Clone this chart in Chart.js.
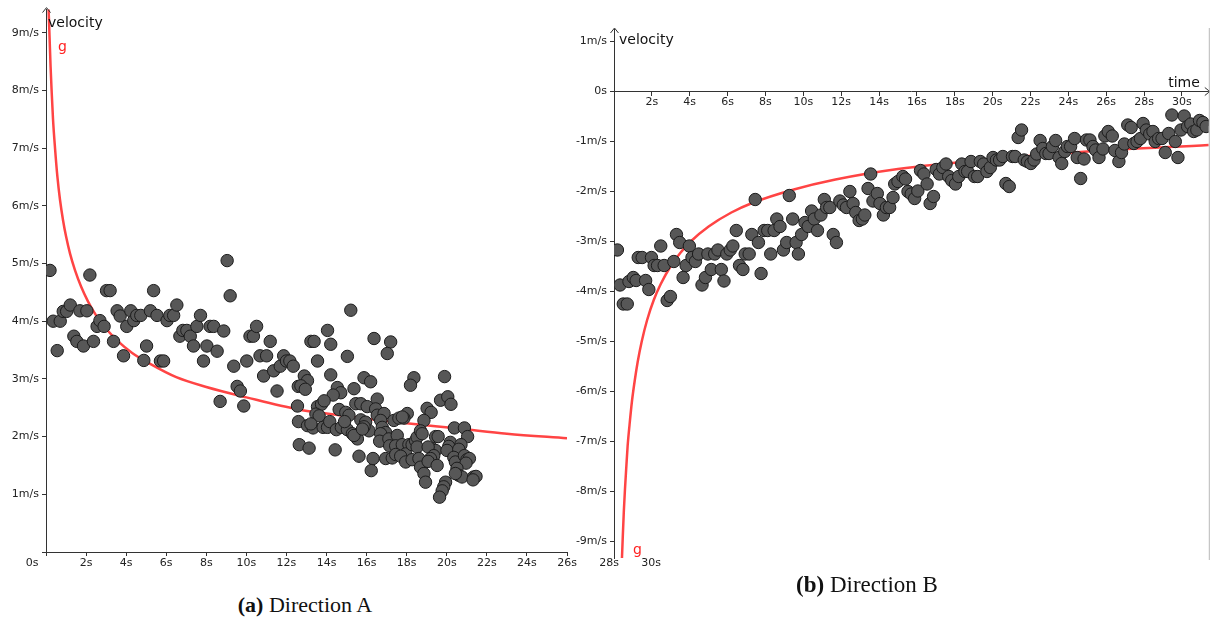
<!DOCTYPE html>
<html>
<head>
<meta charset="utf-8">
<script src="https://cdn.jsdelivr.net/npm/chart.js@4.4.1/dist/chart.umd.min.js"></script>
<style>
  body { margin: 0; background: #fff; width: 1216px; height: 628px; position: relative; overflow: hidden; }
  canvas { position: absolute; top: 0; }
  #chartA { left: 0; }
  #chartB { left: 570px; }
  .caption { position: absolute; font-family: "Liberation Serif", serif; color: #111; transform: translateX(-50%); white-space: nowrap; }
</style>
</head>
<body>
<canvas id="chartA" width="600" height="580"></canvas>
<canvas id="chartB" width="646" height="580"></canvas>
<div class="caption" style="left:305px; top:592px; font-size:22px"><b>(a)</b> Direction A</div>
<div class="caption" style="left:867px; top:572px; font-size:23px"><b>(b)</b> Direction B</div>

<script>
// Direction A: measured speed over time (s, m/s)
const timesA = [
  0.2, 0.36, 0.56, 0.71, 0.86, 1.03, 1.21, 1.39, 1.54, 1.69, 1.87, 2.04, 2.19, 2.37, 2.55, 2.69, 2.9, 3.02, 3.2, 3.37,
  3.55, 3.7, 3.87, 4.03, 4.23, 4.38, 4.53, 4.73, 4.88, 5.02, 5.21, 5.37, 5.54, 5.71, 5.87, 6.04, 6.18, 6.37, 6.53, 6.68,
  6.83, 7.03, 7.2, 7.36, 7.53, 7.71, 7.86, 8.03, 8.19, 8.37, 8.54, 8.69, 8.87, 9.04, 9.19, 9.37, 9.54, 9.7, 9.87, 10.02,
  10.18, 10.35, 10.51, 10.68, 10.86, 11.01, 11.19, 11.36, 11.53, 11.69, 11.86, 12.0, 12.17, 12.34, 12.59, 12.55, 12.6,
  12.89, 13.05, 12.72, 12.94, 13.22, 13.38, 14.05, 14.21, 13.55, 15.21, 15.04, 16.37, 17.2, 17.03, 14.21, 15.87, 16.2,
  14.54, 14.71, 14.33, 15.37, 16.53, 18.36, 18.19, 19.89, 19.69, 20.05, 20.21, 19.02, 19.22, 18.86, 15.46, 15.71, 16.03,
  16.45, 16.53, 16.87, 17.36, 17.61, 18.03, 17.86, 14.63, 14.96, 15.12, 13.55, 13.75, 13.88, 13.47, 13.63,
  12.64, 13.13, 14.43, 13.05, 13.33, 13.22, 13.83, 14.05, 14.16, 14.49, 14.74, 15.04, 15.29, 15.54, 15.37, 15.71, 15.95,
  16.12, 15.87, 15.79, 15.62, 16.7, 16.78, 16.95, 16.7, 16.65, 16.32, 16.23, 17.11, 17.15, 17.53, 17.45, 17.78, 17.78,
  18.11, 17.95, 18.27, 18.44, 18.52, 18.69, 18.77, 18.52, 16.95, 17.28, 17.45, 17.7, 17.95, 18.27, 18.61, 19.44, 19.57,
  19.27, 19.44, 19.07, 19.35, 19.19, 18.69, 18.86, 18.94, 19.07, 19.52, 19.94, 19.85, 19.77, 19.64, 20.38, 20.88, 21.04,
  20.18, 20.1, 20.01, 20.71, 20.6, 20.35, 20.43, 20.88, 21.01, 21.13, 20.96, 20.51, 20.6, 20.76, 20.43, 21.34, 21.46,
  21.31, 14.9
];
const speedsA = [
  4.88, 4.0, 3.49, 4.0, 4.17, 4.17, 4.28, 3.74, 3.65, 4.18, 3.57, 4.18, 4.8, 3.65, 3.91, 4.01, 3.91, 4.53, 4.53, 3.65,
  4.18, 4.09, 3.4, 3.91, 4.18, 4.01, 4.1, 4.1, 3.32, 3.57, 4.18, 4.53, 4.1, 3.31, 3.31, 4.01, 4.1, 4.1, 4.28, 3.74,
  3.84, 3.84, 3.74, 3.57, 3.91, 4.1, 3.31, 3.57, 3.91, 3.91, 3.48, 2.61, 3.83, 5.05, 4.44, 3.22, 2.87, 2.79, 2.53, 3.31,
  3.74, 3.74, 3.91, 3.4, 3.05, 3.4, 3.65, 3.14, 2.79, 3.22, 3.4, 3.31, 3.31, 3.22, 2.87, 2.53, 2.26,
  3.05, 2.97, 2.88, 2.82, 3.65, 3.65, 3.84, 3.6, 3.31, 4.19, 3.39, 3.7, 3.64, 3.44, 3.07, 3.02, 2.95,
  2.85, 2.76, 2.72, 2.83, 2.65, 3.02, 2.89, 3.04, 2.63, 2.69, 2.56, 2.49, 2.42, 2.28, 2.57, 2.57, 2.52,
  2.48, 2.37, 2.4, 2.28, 2.32, 2.4, 2.32, 2.47, 2.42, 2.37, 2.52, 2.56, 2.62, 2.39, 2.36,
  1.86, 1.8, 1.77, 2.19, 2.15, 2.22, 2.16, 2.16, 2.26, 2.12, 2.16, 2.12, 2.05, 1.96, 2.02, 2.29, 2.25,
  2.1, 2.17, 2.13, 1.66, 2.28, 2.16, 2.07, 2.05, 1.92, 1.62, 1.41, 1.96, 1.84, 2.02, 1.84, 2.34, 1.86,
  1.86, 1.7, 1.86, 1.93, 1.99, 2.1, 2.05, 1.82, 1.62, 1.63, 1.69, 1.66, 1.56, 1.6, 1.62, 2.0, 2.0,
  1.79, 1.76, 1.82, 1.67, 1.62, 1.47, 1.36, 1.21, 1.57, 1.5, 1.21, 1.13, 1.06, 0.95, 2.15, 2.15, 2.0,
  1.9, 1.83, 1.76, 1.86, 1.78, 1.64, 1.56, 1.67, 1.6, 1.62, 1.54, 1.45, 1.33, 1.3, 1.36, 1.3, 1.31,
  1.25, 2.26
];
// fitted curve g for direction A
const gTimesA = [
  0.1, 0.14, 0.18, 0.23, 0.28, 0.35, 0.45, 0.57, 0.7, 0.85, 1.0, 1.2, 1.45, 1.75, 2.1, 2.5, 3.0, 3.6, 4.3, 5.2,
  6.5, 8, 10, 12.6, 14, 16, 18, 20.6, 23, 26
];
const gSpeedsA = [
  9.7, 9.3, 8.9, 8.4, 8.0, 7.5, 7.0, 6.5, 6.1, 5.75, 5.47, 5.17, 4.88, 4.6, 4.34, 4.1, 3.87, 3.65, 3.45, 3.26,
  3.03, 2.86, 2.68, 2.47, 2.4, 2.31, 2.23, 2.14, 2.05, 1.97
];

// Direction B: measured velocity over time (s, m/s)
const timesB = [
  0.18, 0.32, 0.49, 0.7, 0.79, 1.02, 1.17, 1.28, 1.49, 1.67, 1.84, 1.98, 2.12, 2.3, 2.47, 2.65, 2.81, 2.98, 3.16, 3.3,
  3.47, 3.65, 3.81, 3.98, 4.12, 4.3, 4.47, 4.65, 4.83, 4.96, 5.14, 5.32, 5.49, 5.67, 5.81, 5.96, 6.14, 6.28, 6.46, 6.63,
  6.81, 6.93, 7.14, 7.28, 7.46, 7.63, 7.77, 7.93, 8.12, 8.28, 8.46, 8.6, 8.77, 8.95, 9.12, 9.26, 9.44, 9.62, 9.74, 9.91,
  10.09, 10.26, 10.44, 10.58, 10.75, 10.93, 11.11, 11.23, 11.4, 11.58, 11.75, 11.93, 12.11, 12.28, 12.46, 12.63, 12.77,
  12.95, 13.12, 13.25, 13.42, 13.56, 13.68, 13.91, 14.05, 14.23, 14.39, 14.56, 14.74, 14.83, 15.0, 15.26, 15.4, 15.53,
  15.7, 15.88, 16.05, 16.19, 16.37, 16.54, 16.7, 16.88, 17.02, 17.19, 17.37, 17.54, 17.68, 17.84, 18.04, 18.21, 18.37,
  18.54, 18.68, 18.86, 19.04, 19.21, 19.35, 19.53, 19.7, 19.88, 20.02, 20.2, 20.37, 20.54, 20.7, 20.88, 21.05, 21.19,
  21.35, 21.53, 21.67, 21.84, 22.02, 22.19, 22.33, 22.51, 22.65, 22.81, 22.98, 23.16, 23.33, 23.51, 23.65, 23.81, 23.95,
  24.12, 24.33, 24.47, 24.65, 24.83, 24.96, 25.14, 25.3, 25.44, 25.62, 25.83, 25.93, 26.11, 26.32, 26.46, 26.67, 26.81,
  26.96, 27.14, 27.32, 27.46, 27.63, 27.81, 27.95, 28.12, 28.3, 28.47, 28.59, 28.77, 28.95, 29.12, 29.3, 29.47, 29.65,
  29.79, 29.95, 30.12, 30.3, 30.47, 30.62, 30.79, 30.93, 31.11, 31.28
];
const velocitiesB = [
  -3.18, -3.88, -4.26, -4.26, -3.81, -3.73, -3.79, -3.33, -3.33, -3.79, -3.97, -3.33, -3.49, -3.49, -3.1, -3.49, -4.19, -4.11, -3.41, -2.87,
  -3.03, -3.73, -3.49, -3.1, -3.33, -3.41, -3.26, -3.88, -3.73, -3.26, -3.57, -3.26, -3.18, -3.57, -3.8, -3.26, -3.18, -3.1, -2.79, -3.49,
  -3.57, -3.26, -3.26, -2.87, -2.17, -3.03, -3.65, -2.79, -2.79, -3.26, -2.79, -2.56, -2.71, -3.18, -3.03, -2.09, -2.56, -3.03, -3.26, -2.87,
  -2.63, -2.71, -2.4, -2.56, -2.79, -2.48, -2.17, -2.33, -2.33, -2.87, -3.03, -2.2, -2.28, -2.33, -2.01, -2.25, -2.43,
  -2.59, -2.56, -2.48, -1.95, -1.66, -2.2, -2.05, -2.25, -2.48, -2.33, -2.33, -2.13, -1.86, -1.81, -1.71, -1.76, -2.01,
  -2.06, -2.15, -2.0, -1.59, -1.66, -1.86, -2.25, -2.11, -1.57, -1.66, -1.53, -1.46, -1.71, -1.79, -1.86, -1.71, -1.46,
  -1.61, -1.61, -1.41, -1.71, -1.71, -1.41, -1.46, -1.61, -1.53, -1.33, -1.38, -1.38, -1.31, -1.85, -1.91, -1.31, -1.31,
  -0.93, -0.78, -1.38, -1.41, -1.45, -1.38, -1.26, -0.99, -1.15, -1.25, -1.25, -1.11, -0.99, -1.33, -1.45, -1.21, -1.11,
  -1.11, -0.95, -1.33, -1.75, -1.36, -0.98, -0.98, -1.11, -1.18, -1.33, -1.16, -0.9, -0.81, -0.9, -1.19, -1.41, -1.23,
  -1.06, -0.68, -0.73, -1.05, -1.01, -0.95, -0.65, -0.78, -0.86, -0.81, -1.01, -0.95, -0.95, -1.23, -0.85, -0.48, -1.01,
  -1.33, -0.78, -0.5, -0.71, -0.66, -0.81, -0.78, -0.59, -0.63, -0.71
];
// fitted curve g for direction B
const gTimesB = [
  0.38, 0.42, 0.46, 0.52, 0.58, 0.65, 0.72, 0.82, 0.95, 1.1, 1.25, 1.47, 1.75, 2.1, 2.47, 3.0, 3.5, 4.05, 5.0, 6.2,
  7.3, 9.5, 11.7, 15, 20.3, 25, 31.42
];
const gVelocitiesB = [
  -9.8, -9.35, -8.95, -8.4, -7.96, -7.52, -7.1, -6.68, -6.2, -5.78, -5.42, -5.0, -4.58, -4.18, -3.86, -3.5, -3.24, -3.01, -2.71, -2.43,
  -2.24, -1.97, -1.77, -1.56, -1.35, -1.21, -1.08
];

const tickFont = { family: "DejaVu Sans", size: 11 };
const axisColor = "#333";

function toPoints(xs, ys) {
  return xs.map((x, i) => ({ x: x, y: ys[i] }));
}

function chevron(ctx, x, y, dir) {
  ctx.beginPath();
  if (dir === "up") {
    ctx.moveTo(x - 4, y + 5); ctx.lineTo(x, y); ctx.lineTo(x + 4, y + 5);
  } else {
    ctx.moveTo(x - 5, y - 4); ctx.lineTo(x, y); ctx.lineTo(x - 5, y + 4);
  }
  ctx.stroke();
}

function text(ctx, str, x, y, opts) {
  ctx.font = opts.font;
  ctx.fillStyle = opts.color || "#111";
  ctx.textAlign = opts.align || "left";
  ctx.textBaseline = "middle";
  ctx.fillText(str, x, y);
}

const decorA = {
  id: "decorA",
  afterDraw(chart) {
    const { ctx, chartArea: area, scales } = chart;
    ctx.save();
    ctx.strokeStyle = axisColor;
    ctx.lineWidth = 1;
    chevron(ctx, area.left + 0.5, area.top - 2, "up");
    text(ctx, "velocity", area.left + 2, area.top + 14, { font: "14px DejaVu Sans" });
    text(ctx, "g", scales.x.getPixelForValue(0.6), scales.y.getPixelForValue(8.75), { font: "14px DejaVu Sans", color: "#ff2020" });
    text(ctx, "0s", area.left - 14, area.bottom + 11, { font: "11px DejaVu Sans", color: "#222", align: "center" });
    ctx.restore();
  }
};

const decorB = {
  id: "decorB",
  afterDraw(chart) {
    const { ctx, chartArea: area, scales } = chart;
    const y0 = scales.y.getPixelForValue(0);
    ctx.save();
    ctx.strokeStyle = axisColor;
    ctx.lineWidth = 1;
    chevron(ctx, area.left + 0.5, area.top - 1, "up");
    chevron(ctx, area.right + 1, Math.round(y0) + 0.5, "right");
    ctx.strokeStyle = "#b8b8b8";
    ctx.beginPath();
    ctx.moveTo(area.right + 0.5, area.top - 1);
    ctx.lineTo(area.right + 0.5, area.bottom + 2);
    ctx.stroke();
    text(ctx, "velocity", area.left + 5, area.top + 11, { font: "14px DejaVu Sans" });
    text(ctx, "time", area.right - 9, y0 - 8, { font: "14px DejaVu Sans", align: "right" });
    text(ctx, "g", scales.x.getPixelForValue(1.0), scales.y.getPixelForValue(-9.18), { font: "14px DejaVu Sans", color: "#ff2020" });
    text(ctx, "28s", area.left - 5, area.bottom + 5, { font: "11px DejaVu Sans", color: "#222", align: "center" });
    text(ctx, "30s", area.left + 37, area.bottom + 5, { font: "11px DejaVu Sans", color: "#222", align: "center" });
    ctx.restore();
  }
};

function scatterSet(points) {
  return {
    data: points,
    pointRadius: 6.2,
    backgroundColor: "#575757",
    borderColor: "#1c1c1c",
    borderWidth: 1
  };
}

function curveSet(points) {
  return {
    type: "line",
    data: points,
    borderColor: "#ff4444",
    borderWidth: 2.5,
    pointRadius: 0,
    cubicInterpolationMode: "monotone",
    fill: false
  };
}

const tickMarks = { display: true, drawOnChartArea: false, drawTicks: true, tickLength: 4, color: axisColor };

new Chart(document.getElementById("chartA"), {
  type: "scatter",
  data: { datasets: [scatterSet(toPoints(timesA, speedsA)), curveSet(toPoints(gTimesA, gSpeedsA))] },
  options: {
    responsive: false,
    animation: false,
    devicePixelRatio: 1,
    layout: { padding: { top: 6, right: 33, bottom: 8, left: 0 } },
    plugins: { legend: { display: false }, tooltip: { enabled: false } },
    scales: {
      x: {
        type: "linear", min: 0, max: 26,
        afterFit: (s) => { s.height = 20; },
        grid: tickMarks,
        border: { color: axisColor, width: 1 },
        ticks: {
          stepSize: 2, includeBounds: false, padding: 1, color: "#222", font: tickFont,
          maxRotation: 0, autoSkip: false,
          callback: (v) => (v === 0 ? "" : v + "s")
        }
      },
      y: {
        type: "linear", min: 0, max: 9.4,
        afterFit: (s) => { s.width = 46; },
        grid: tickMarks,
        border: { color: axisColor, width: 1 },
        ticks: {
          stepSize: 1, includeBounds: false, padding: 3, color: "#222", font: tickFont,
          callback: (v) => (v === 0 ? "" : v + "m/s")
        }
      }
    }
  },
  plugins: [decorA]
});

new Chart(document.getElementById("chartB"), {
  type: "scatter",
  data: { datasets: [scatterSet(toPoints(timesB, velocitiesB)), curveSet(toPoints(gTimesB, gVelocitiesB))] },
  options: {
    responsive: false,
    animation: false,
    devicePixelRatio: 1,
    layout: { padding: { top: 29, right: 5, bottom: 22, left: 0 } },
    plugins: { legend: { display: false }, tooltip: { enabled: false } },
    scales: {
      x: {
        type: "linear", min: 0, max: 31.42, position: { y: 0 },
        afterFit: (s) => { s.height = 0; },
        grid: tickMarks,
        border: { color: axisColor, width: 1 },
        ticks: {
          stepSize: 2, includeBounds: false, padding: 1, color: "#222", font: tickFont,
          maxRotation: 0, autoSkip: false,
          callback: (v) => (v === 0 ? "" : v + "s")
        }
      },
      y: {
        type: "linear", min: -9.34, max: 1.24,
        afterFit: (s) => { s.width = 44; },
        grid: tickMarks,
        border: { color: axisColor, width: 1 },
        ticks: {
          stepSize: 1, includeBounds: false, padding: 3, color: "#222", font: tickFont,
          callback: (v) => (v === 0 ? "0s" : v + "m/s")
        }
      }
    }
  },
  plugins: [decorB]
});
</script>
</body>
</html>
